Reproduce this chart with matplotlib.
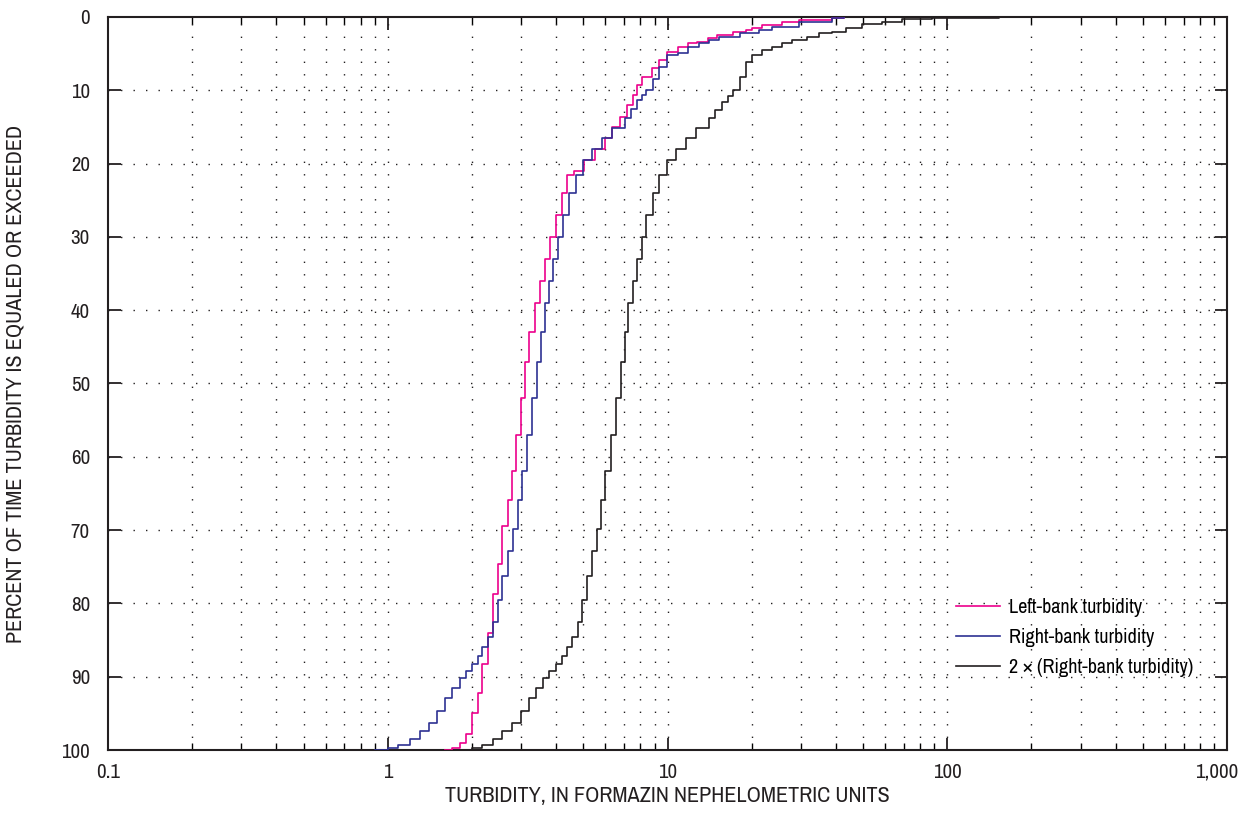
import matplotlib
matplotlib.use("Agg")
import matplotlib.pyplot as plt
from matplotlib.ticker import FixedLocator, NullFormatter
from matplotlib.transforms import ScaledTranslation

# ---- data ----
left_turb = [1.60, 1.69, 1.81, 1.90, 2.00, 2.10, 2.18, 2.28, 2.37, 2.47, 2.57, 2.68,
             2.77, 2.87, 2.99, 3.09, 3.21, 3.35, 3.49, 3.64, 3.79, 3.98, 4.18, 4.39,
             4.65, 5.05, 5.49, 5.96, 6.31, 6.74, 7.14, 7.50, 7.81, 8.14, 8.77, 9.36,
             9.92, 10.9, 11.8, 12.8, 13.9, 15.0, 17.1, 19.1, 20.1, 21.8, 25.7, 29.6,
             38.8, 42.9]
left_pct = [100, 99.7, 99.0, 97.8, 95.0, 92.2, 88.3, 84.0, 78.7, 74.6, 69.4, 65.9,
            62.0, 57.0, 52.0, 47.0, 43.0, 39.0, 36.0, 33.0, 30.0, 27.0, 24.0, 21.5,
            21.0, 19.5, 18.0, 16.5, 15.0, 13.6, 12.0, 10.6, 9.3, 8.2, 7.0, 5.8,
            4.8, 4.1, 3.6, 3.4, 2.9, 2.5, 2.1, 1.8, 1.5, 1.1, 0.7, 0.4,
            0.1, 0.0]

right_turb = [0.90, 1.00, 1.09, 1.20, 1.30, 1.40, 1.50, 1.60, 1.69, 1.81, 1.90, 2.00,
              2.10, 2.18, 2.28, 2.37, 2.47, 2.57, 2.68, 2.80, 2.91, 3.01, 3.14, 3.27,
              3.41, 3.52, 3.64, 3.76, 3.89, 4.05, 4.22, 4.43, 4.69, 4.97, 5.35, 5.81,
              6.31, 7.02, 7.38, 7.75, 8.08, 8.41, 8.84, 9.36, 9.92, 10.9, 11.8, 13.0,
              14.1, 15.3, 18.1, 21.3, 23.7, 29.6, 38.8, 42.9]
right_pct = [100, 99.7, 99.3, 98.5, 97.4, 96.3, 94.7, 92.9, 91.5, 90.2, 89.2, 88.3,
             87.2, 85.9, 84.6, 82.5, 79.5, 76.3, 72.9, 69.9, 65.9, 62.0, 57.0, 52.0,
             47.0, 43.0, 39.0, 36.0, 33.0, 30.0, 27.0, 24.0, 21.5, 19.5, 18.0, 16.5,
             15.2, 13.8, 12.5, 11.3, 10.6, 10.0, 8.4, 6.8, 5.2, 4.9, 4.1, 3.6,
             3.1, 2.7, 2.2, 1.8, 1.3, 0.7, 0.2, 0.0]

double_turb = [1.79, 2.00, 2.18, 2.37, 2.57, 2.77, 2.99, 3.19, 3.38, 3.58, 3.76, 3.98,
               4.18, 4.36, 4.54, 4.77, 4.93, 5.14, 5.35, 5.58, 5.77, 6.00, 6.26, 6.52,
               6.80, 7.02, 7.25, 7.50, 7.75, 8.08, 8.41, 8.84, 9.36, 9.92, 10.7, 11.6,
               12.6, 14.1, 14.8, 15.7, 16.4, 17.1, 18.1, 19.1, 20.0, 21.7, 23.7, 25.7,
               27.9, 31.4, 34.9, 38.8, 43.6, 49.7, 58.6, 69.1, 88.4, 153.0]
double_pct = [100, 99.7, 99.3, 98.5, 97.4, 96.3, 94.7, 92.9, 91.5, 90.2, 89.2, 88.3,
              87.2, 85.9, 84.6, 82.5, 79.5, 76.3, 72.9, 69.9, 65.9, 62.0, 57.0, 52.0,
              47.0, 43.0, 39.0, 36.0, 33.0, 30.0, 27.0, 24.0, 21.5, 19.5, 18.0, 16.5,
              15.2, 13.8, 12.7, 11.6, 10.8, 10.0, 8.2, 6.1, 5.2, 4.5, 4.1, 3.6,
              3.1, 2.7, 2.2, 2.0, 1.5, 1.0, 0.7, 0.3, 0.1, 0.0]

series_labels = ["Left-bank turbidity", "Right-bank turbidity", "2 \u00d7 (Right-bank turbidity)"]
series_colors = ["#ec008c", "#2e3192", "#231f20"]

x_ticks = [0.1, 1, 10, 100, 1000]
x_ticklabels = ["0.1", "1", "10", "100", "1,000"]
y_ticks = [0, 10, 20, 30, 40, 50, 60, 70, 80, 90, 100]

# ---- fonts ----
plt.rcParams["font.family"] = ["Archivo Narrow", "DejaVu Sans"]

fig = plt.figure(figsize=(12.45, 8.13), dpi=100)
ax = fig.add_axes([108 / 1245, 1 - 750 / 813, (1227 - 108) / 1245, (750 - 17) / 813])

ax.set_xscale("log")
ax.set_xlim(0.1, 1000)
ax.set_ylim(100, 0)

# grid
minor_pos = []
for dec in [0.1, 1, 10, 100]:
    for m in range(2, 10):
        minor_pos.append(dec * m)
grid_style = dict(color="#231f20", linewidth=1.0, linestyle=(0, (1, 8)), zorder=0)
for xv in minor_pos + [1, 10, 100]:
    ax.axvline(xv, **grid_style)
for yv in y_ticks[1:-1]:
    ax.axhline(yv, **grid_style)

for xs, ys, lab, col in zip([left_turb, right_turb, double_turb],
                            [left_pct, right_pct, double_pct],
                            series_labels, series_colors):
    ax.step(xs, ys, where="post", color=col, linewidth=1.2, label=lab, zorder=3)

ax.xaxis.set_major_locator(FixedLocator(x_ticks))
ax.set_xticklabels(x_ticklabels)
ax.xaxis.set_minor_locator(FixedLocator(minor_pos))
ax.xaxis.set_minor_formatter(NullFormatter())
ax.set_yticks(y_ticks)

ax.tick_params(axis="both", which="major", direction="in", length=9, width=1.3,
               labelsize=15, top=True, right=True, colors="#231f20")
ax.tick_params(axis="y", which="major", pad=13)
ax.tick_params(axis="x", which="major", pad=9)
ax.tick_params(axis="x", which="minor", direction="in", length=5, width=1.0, top=True)
for sp in ax.spines.values():
    sp.set_linewidth(1.5)
    sp.set_color("#231f20")

# nudge the last x tick label left so it stays inside the figure
last = ax.get_xticklabels()[-1]
last.set_transform(last.get_transform() + ScaledTranslation(-0.10, 0, fig.dpi_scale_trans))

ax.set_xlabel("TURBIDITY, IN FORMAZIN NEPHELOMETRIC UNITS", fontsize=16, labelpad=3,
              color="#231f20")
ax.set_ylabel("PERCENT OF TIME TURBIDITY IS EQUALED OR EXCEEDED", fontsize=16,
              labelpad=26, color="#231f20")

leg = ax.legend(loc="upper left", bbox_to_anchor=((948 - 108) / 1119, 1 - (590 - 17) / 733),
                frameon=False, fontsize=14.5, handlelength=2.2, handletextpad=0.45,
                labelspacing=0.55, borderaxespad=0)

fig.savefig("out.png", dpi=100)
